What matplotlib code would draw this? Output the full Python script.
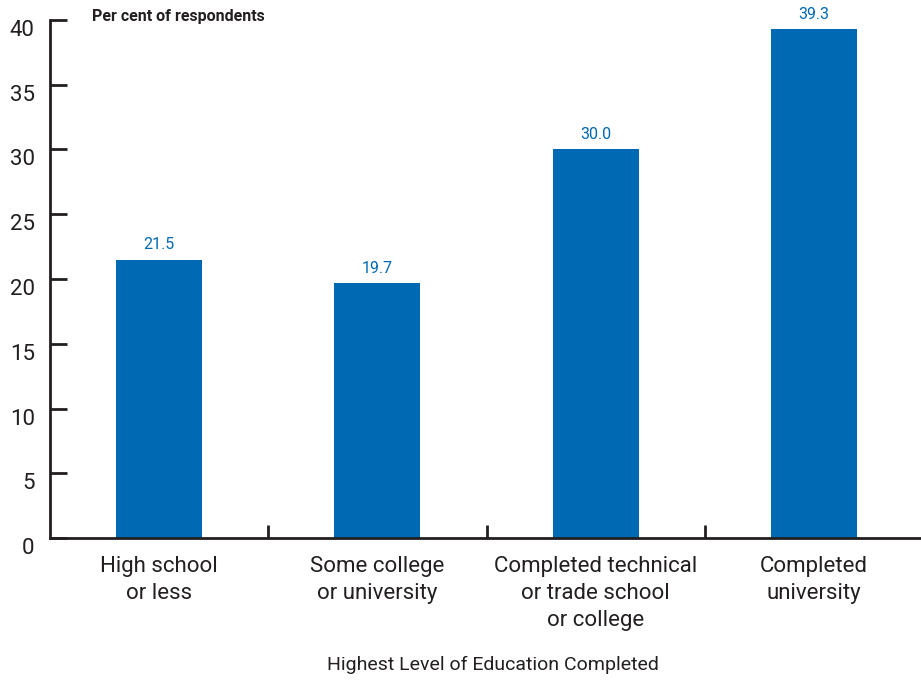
import matplotlib
matplotlib.use("Agg")
import matplotlib.pyplot as plt
import numpy as np

# Data
categories = ["High school\nor less",
              "Some college\nor university",
              "Completed technical\nor trade school\nor college",
              "Completed\nuniversity"]
values = [21.5, 19.7, 30.0, 39.3]
yticks = [0, 5, 10, 15, 20, 25, 30, 35, 40]

bar_color = "#0069b4"
ink = "#231f20"

plt.rcParams['font.family'] = ['Roboto', 'DejaVu Sans']

fig = plt.figure(figsize=(9.21, 6.8), dpi=100)
ax = fig.add_axes([0.0543, 0.2088, 0.9457, 0.7618])

x = np.arange(len(categories))
ax.bar(x, values, width=0.394, color=bar_color, zorder=2)

for xi, v in zip(x, values):
    ax.text(xi, v + 0.55, f"{v:.1f}", ha="center", va="bottom",
            color=bar_color, fontsize=11.5)

ax.set_xlim(-0.5, 3.49)
ax.set_ylim(0, 40)

# spines
for s in ["top", "right"]:
    ax.spines[s].set_visible(False)
for s in ["left", "bottom"]:
    ax.spines[s].set_linewidth(2)
    ax.spines[s].set_color(ink)
    ax.spines[s].set_zorder(3)

# y ticks point inward, labels hang below the tick
ax.set_yticks(yticks)
ax.set_yticklabels([str(t) for t in yticks])
ax.tick_params(axis="y", direction="in", length=12, width=2, color=ink,
               labelsize=16, labelcolor=ink, pad=11)
for lab in ax.get_yticklabels():
    lab.set_verticalalignment("top")

# x: labels under the bars, separators between groups
ax.set_xticks(x)
ax.set_xticklabels(categories, fontsize=16, color=ink, linespacing=1.38)
ax.tick_params(axis="x", which="major", length=0, pad=13)
ax.set_xticks([0.5, 1.5, 2.5], minor=True)
ax.tick_params(axis="x", which="minor", direction="in", length=9.5, width=2,
               color=ink)

ax.set_xlabel("Highest Level of Education Completed", fontsize=14,
              color=ink)
ax.xaxis.set_label_coords(0.509, -0.228)

fig.text(92 / 921, 1 - 17 / 680, "Per cent of respondents", fontsize=11.5,
         fontweight="bold", color=ink, ha="left", va="center")

fig.savefig("out.png", dpi=100)
